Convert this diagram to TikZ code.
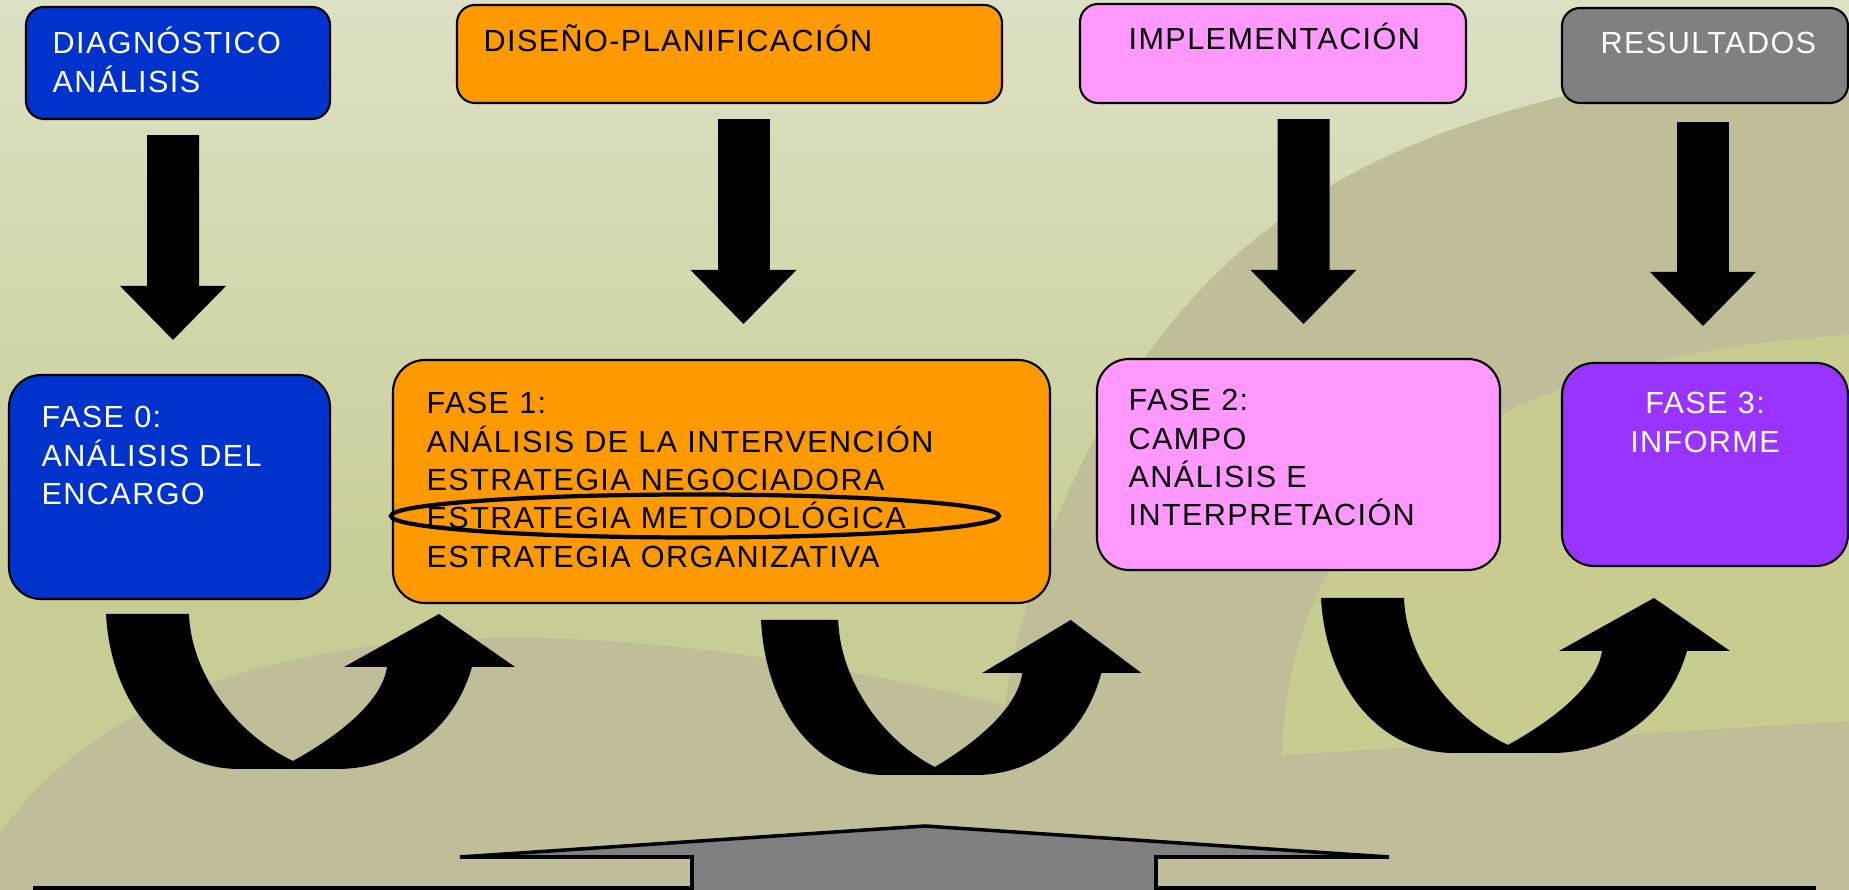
\documentclass[tikz,border=0pt]{standalone}
\usepackage{fontspec}
\setmainfont{Liberation Sans}[LetterSpace=4.6]
\usepackage{tikz}
\usetikzlibrary{arrows.meta,calc,positioning}
\definecolor{azul}{HTML}{0033CC}
\definecolor{naranja}{HTML}{FF9900}
\definecolor{rosa}{HTML}{FF99FF}
\definecolor{gris}{HTML}{808080}
\definecolor{lila}{HTML}{9933FF}
\definecolor{fondoA}{HTML}{DDE1C4}
\definecolor{fondoB}{HTML}{C7CD95}
\definecolor{fondoC}{HTML}{C0BE98}
\definecolor{fondoD}{HTML}{C8CC8F}

\begin{document}
\begin{tikzpicture}[y = -1cm,
  uturn/.pic = {\fill[black] (0,0) -- (0.83,0) .. controls (0.85,0.60) and (1.30,1.20) .. (1.87,1.47)
     .. controls (2.32,1.22) and (2.76,0.88) .. (2.81,0.53) -- (2.38,0.53) -- (3.33,0) -- (4.09,0.53)
     -- (3.66,0.53) .. controls (3.45,1.25) and (2.85,1.55) .. (2.31,1.55) -- (1.33,1.55)
     .. controls (0.60,1.55) and (0.05,0.90) .. (0,0) -- cycle;}]
	\tikzstyle{caja} = [draw = black, line width = 0.6pt, rounded corners = 0.18cm]
	\tikzstyle{fase} = [draw = black, line width = 0.6pt, rounded corners = 0.32cm]
	\tikzstyle{texto} = [inner sep = 0, text width = 6cm, align = left, anchor = base west, font = \fontsize{8.7}{10.9}\selectfont]
	\tikzstyle{flecha} = [line width = 0.52cm, -{Triangle[length = 0.54cm, width = 1.06cm, line width = 0pt]}]
% fondo
\useasboundingbox (0,0) rectangle (18.49,8.90);
\fill[top color = fondoA, bottom color = fondoB] (0,0) rectangle (18.49,6.0);
\fill[fondoB] (0,5.99) rectangle (18.49,8.90);
\fill[fondoC] (0,8.90) -- (0,8.33) .. controls (1.00,6.90) and (3.00,6.40) .. (5.00,6.38)
   .. controls (7.00,6.36) and (9.00,6.80) .. (10.05,7.05)
   .. controls (10.30,5.30) and (11.30,3.30) .. (12.71,2.27)
   .. controls (13.90,1.30) and (16.00,0.70) .. (18.49,0.55) -- (18.49,8.90) -- cycle;
\fill[fondoD] (12.82,7.55) .. controls (12.90,5.20) and (14.50,3.60) .. (18.49,3.35) -- (18.49,7.21) -- cycle;
% cajas de arriba
\node[caja, fill = azul, minimum width = 3.04cm, minimum height = 1.12cm] (d0) at (1.78,0.63) {};
\node[caja, fill = naranja, minimum width = 5.45cm, minimum height = 0.98cm] (d1) at (7.295,0.54) {};
\node[caja, fill = rosa, minimum width = 3.86cm, minimum height = 0.99cm] (d2) at (12.73,0.535) {};
\node[caja, fill = gris, minimum width = 2.86cm, minimum height = 0.95cm] (d3) at (17.05,0.555) {};
\node[texto, text = white] (td0) at (0.52,0.54) {DIAGNÓSTICO\\ANÁLISIS};
\node[texto] (td1) at (4.83,0.52) {DISEÑO-PLANIFICACIÓN};
\node[texto] (td2) at (11.28,0.50) {IMPLEMENTACIÓN};
\node[texto, text = white] (td3) at (16.00,0.54) {RESULTADOS};
% fases
\node[fase, fill = azul, minimum width = 3.21cm, minimum height = 2.24cm] (f0) at (1.695,4.87) {};
\node[fase, fill = naranja, minimum width = 6.57cm, minimum height = 2.43cm] (f1) at (7.215,4.815) {};
\node[fase, fill = rosa, minimum width = 4.03cm, minimum height = 2.11cm] (f2) at (12.985,4.645) {};
\node[fase, fill = lila, minimum width = 2.86cm, minimum height = 2.03cm] (f3) at (17.05,4.645) {};
\node[texto, text = white] (tf0) at (0.41,4.28) {FASE 0:\\ANÁLISIS DEL\\ENCARGO};
\node[texto] (tf1) at (4.26,4.14) {FASE 1:\\ANÁLISIS DE LA INTERVENCIÓN\\ESTRATEGIA NEGOCIADORA\\ESTRATEGIA METODOLÓGICA\\ESTRATEGIA ORGANIZATIVA};
\node[texto] (tf2) at (11.28,4.11) {FASE 2:\\CAMPO\\ANÁLISIS E\\INTERPRETACIÓN};
\node[texto, text = white, align = center, anchor = base, text width = 2.6cm] (tf3) at (17.05,4.14) {FASE 3:\\INFORME};
\draw[line width = 1.2pt] (6.95,5.16) ellipse [x radius = 3.04cm, y radius = 0.215cm];
% flechas
	\draw[flecha, shorten < = 0.15cm, shorten > = 0.34cm] ([xshift = -0.05cm]d0.south) -- ([xshift = 0.035cm]f0.north);
	\draw[flecha, shorten < = 0.15cm, shorten > = 0.35cm] ([xshift = 0.14cm]d1.south) -- ([xshift = 0.22cm]f1.north);
	\draw[flecha, shorten < = 0.15cm, shorten > = 0.34cm] ([xshift = 0.305cm]d2.south) -- ([xshift = 0.05cm]f2.north);
	\draw[flecha, shorten < = 0.18cm, shorten > = 0.36cm] ([xshift = -0.02cm]d3.south) -- ([xshift = -0.02cm]f3.north);
\pic at (1.06,6.14) {uturn};
\pic[xscale = 0.93] at (7.61,6.20) {uturn};
\pic at (13.21,5.98) {uturn};
% flecha gris
\draw[line width = 1pt] (0.33,8.88) -- (18.16,8.88);
\draw[fill = gris, line width = 1pt] (6.92,8.95) -- (6.92,8.57) -- (4.60,8.57) -- (9.25,8.26) -- (13.89,8.57) -- (11.56,8.57) -- (11.56,8.95);
\end{tikzpicture}
\end{document}
